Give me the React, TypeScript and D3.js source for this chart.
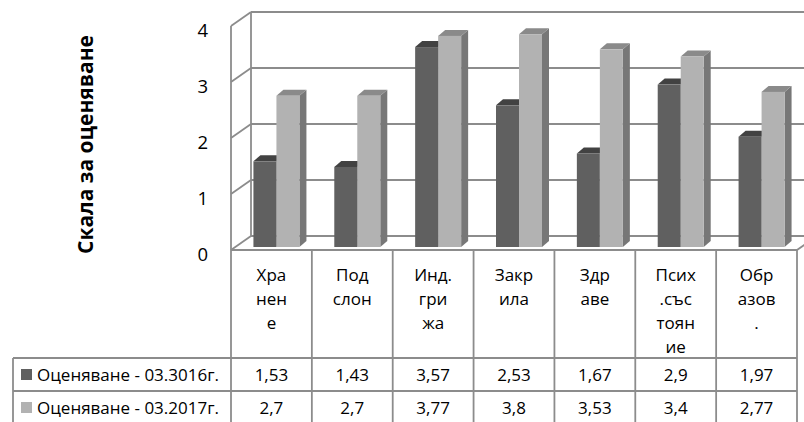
import { scaleBand, scaleLinear } from "d3";
import { useEffect } from "react";

// data
const categories = [
  ["Хра", "нен", "е"],
  ["Под", "слон"],
  ["Инд.", "гри", "жа"],
  ["Закр", "ила"],
  ["Здр", "аве"],
  ["Псих", ".със", "тоян", "ие"],
  ["Обр", "азов", "."],
];
const seriesNames = ["Оценяване - 03.3016г.", "Оценяване - 03.2017г."];
const values2016 = [1.53, 1.43, 3.57, 2.53, 1.67, 2.9, 1.97];
const values2017 = [2.7, 2.7, 3.77, 3.8, 3.53, 3.4, 2.77];
const yTicks = [0, 1, 2, 3, 4];
const yTitle = "Скала за оценяване";

const series = [values2016, values2017];
const FRONT = ["#606060", "#b2b2b2"];
const TOP = ["#424242", "#8a8a8a"];
const SIDE = ["#4a4a4a", "#777777"];
const GRID = "#8c8c8c";
const FONT = "'Open Sans', 'Noto Sans', sans-serif";

const W = 804;
const H = 422;
const left = 231;
const right = 797;
const floorFront = 250;
const wallDx = 20;
const wallDy = 14;
const barDx = 7;
const barDy = 6;

const fmt = (v: number) => String(v).replace(".", ",");

export default function App() {
  useEffect(() => {
    document.body.style.margin = "0";
    document.body.style.overflow = "hidden";
  }, []);

  const x = scaleBand<number>()
    .domain(categories.map((_, i) => i))
    .range([left, right]);
  const bw = x.bandwidth();

  // front edge of the side wall, back wall, and bar fronts
  const yFront = scaleLinear().domain([0, 4]).range([floorFront, floorFront - 224]);
  const yBack = scaleLinear().domain([0, 4]).range([floorFront - wallDy, floorFront - wallDy - 224]);
  const yBar = scaleLinear().domain([0, 4]).range([247, 23]);

  const inner = scaleBand<number>().domain([0, 1]).range([0, 46]);

  const rowTop = 358;
  const rowH = 33;

  return (
    <svg
      width={W}
      height={H}
      style={{ position: "absolute", left: 0, top: 0, background: "#fff" }}
      fontFamily={FONT}
    >
      {/* left wall & back wall gridlines */}
      {yTicks.map((t) => (
        <g key={t} stroke={GRID} strokeWidth={1.8} fill="none">
          <line x1={left} y1={yFront(t)} x2={left + wallDx} y2={yBack(t)} />
          <line x1={left + wallDx} y1={yBack(t)} x2={W} y2={yBack(t)} />
        </g>
      ))}
      <line x1={left} y1={yFront(4)} x2={left} y2={floorFront} stroke={GRID} strokeWidth={1.8} />
      <line x1={left + wallDx} y1={yBack(4)} x2={left + wallDx} y2={yBack(0)} stroke={GRID} strokeWidth={1.8} />
      {/* floor */}
      <line x1={left} y1={floorFront} x2={right} y2={floorFront} stroke={GRID} strokeWidth={1.8} />
      <line x1={right} y1={floorFront} x2={right + wallDx} y2={floorFront - wallDy} stroke={GRID} strokeWidth={1.8} />

      {/* y tick labels */}
      {yTicks.map((t) => (
        <text key={t} x={208} y={yFront(t) + 10.5} textAnchor="end" fontSize={18.5} fill="#000">
          {t}
        </text>
      ))}
      <text
        transform={`translate(93,${144.5}) rotate(-90)`}
        textAnchor="middle"
        fontSize={21}
        fontWeight="bold"
        fill="#000"
      >
        {yTitle}
      </text>

      {/* bars */}
      {categories.map((_, i) => {
        const cx = (x(i) as number) + bw / 2 + 5;
        return (
          <g key={i}>
            {series.map((s, k) => {
              const x0 = cx - 23 + (inner(k) as number);
              const x1 = x0 + inner.bandwidth();
              const yt = yBar(s[i]);
              const yb = yBar(0);
              return (
                <g key={k}>
                  <polygon
                    points={`${x1},${yt} ${x1 + barDx},${yt - barDy} ${x1 + barDx},${yb - barDy} ${x1},${yb}`}
                    fill={SIDE[k]}
                  />
                  <polygon
                    points={`${x0},${yt} ${x0 + barDx},${yt - barDy} ${x1 + barDx},${yt - barDy} ${x1},${yt}`}
                    fill={TOP[k]}
                  />
                  <rect x={x0} y={yt} width={x1 - x0} height={yb - yt} fill={FRONT[k]} />
                </g>
              );
            })}
          </g>
        );
      })}

      {/* data table */}
      <g stroke={GRID} strokeWidth={1.8}>
        {categories.map((_, i) => (
          <line key={i} x1={x(i)} y1={floorFront} x2={x(i)} y2={H} />
        ))}
        <line x1={right} y1={floorFront} x2={right} y2={H} />
        <line x1={13} y1={rowTop} x2={right} y2={rowTop} />
        <line x1={13} y1={rowTop + rowH} x2={right} y2={rowTop + rowH} />
        <line x1={13} y1={rowTop} x2={13} y2={H} />
      </g>
      {categories.map((lines, i) => (
        <text
          key={i}
          x={(x(i) as number) + bw / 2}
          textAnchor="middle"
          fontSize={17}
          fill="#000"
        >
          {lines.map((l, j) => (
            <tspan key={j} x={(x(i) as number) + bw / 2} y={281 + j * 24}>
              {l}
            </tspan>
          ))}
        </text>
      ))}
      {series.map((s, k) => (
        <g key={k}>
          <rect x={21} y={rowTop + k * rowH + 11} width={11} height={11} fill={FRONT[k]} />
          <text x={37} y={rowTop + k * rowH + 22.5} fontSize={17} fill="#000">
            {seriesNames[k]}
          </text>
          {s.map((v, i) => (
            <text
              key={i}
              x={(x(i) as number) + bw / 2}
              y={rowTop + k * rowH + 22.5}
              textAnchor="middle"
              fontSize={17}
              fill="#000"
            >
              {fmt(v)}
            </text>
          ))}
        </g>
      ))}
    </svg>
  );
}
